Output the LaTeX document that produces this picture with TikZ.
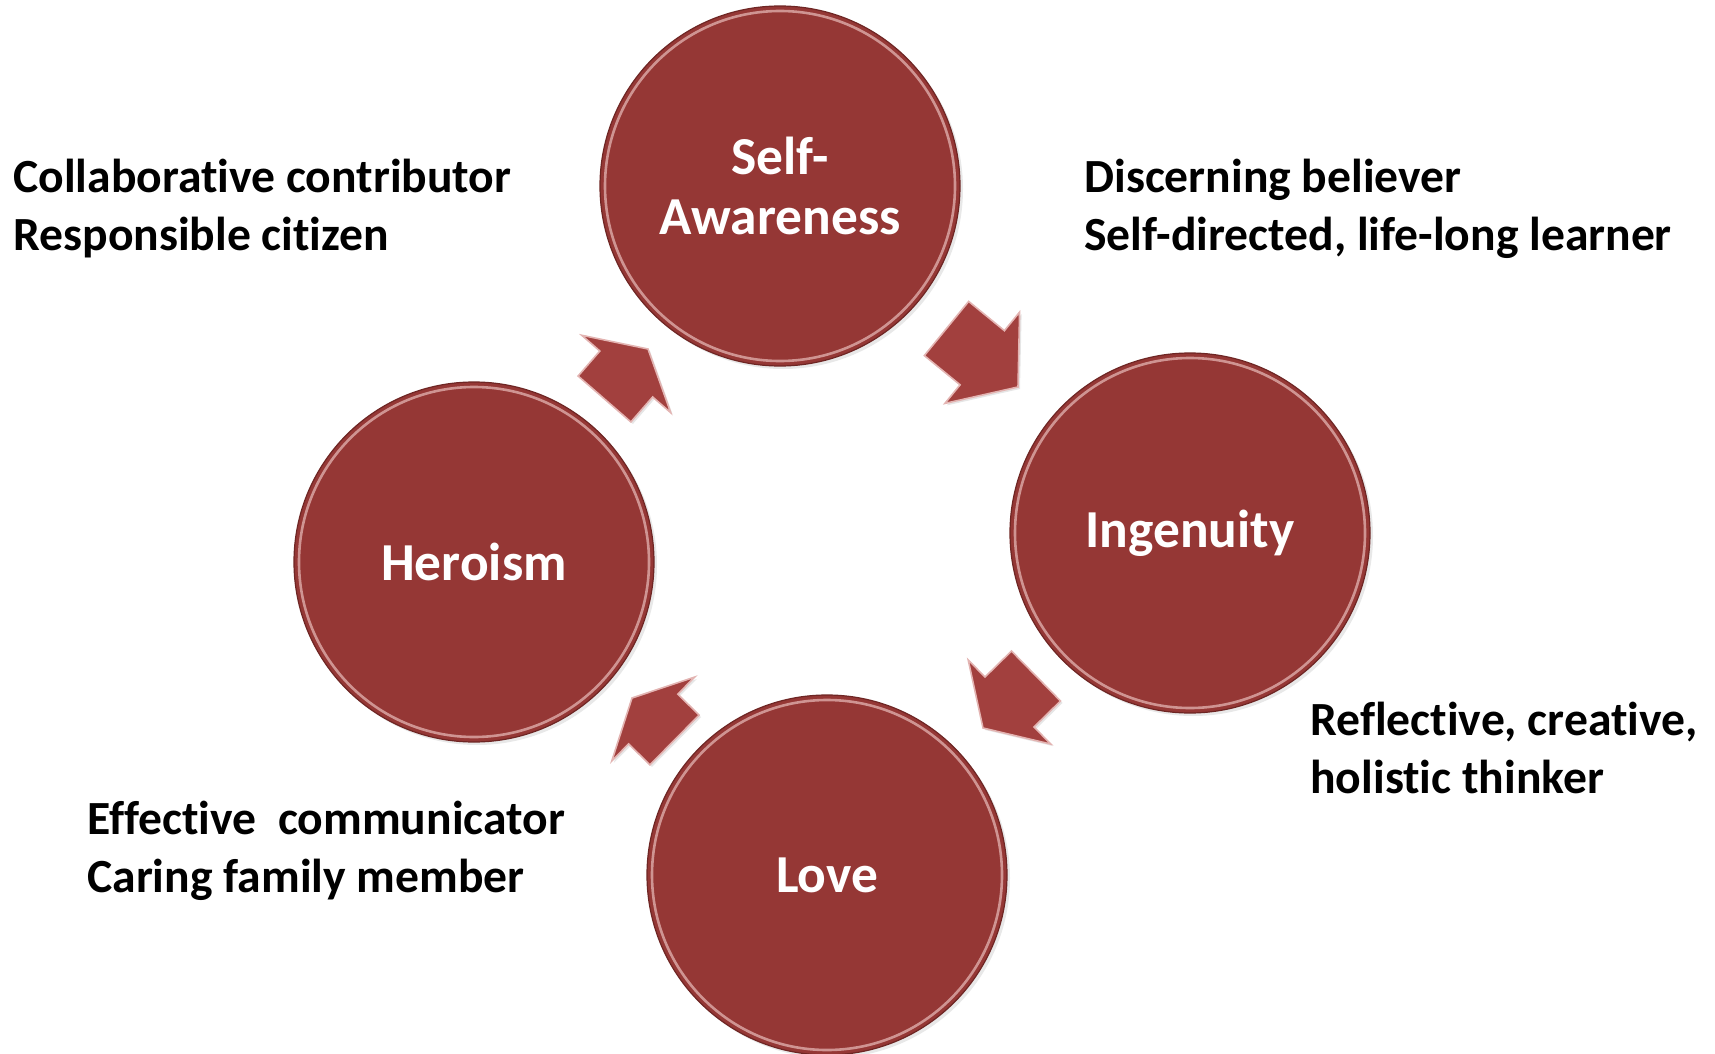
\documentclass[tikz,border=0pt]{standalone}
\usepackage{fontspec}
\setmainfont{Carlito}[RawFeature={-liga;-clig;-calt;-dlig}]
\usetikzlibrary{calc,shadows}
\definecolor{circfill}{HTML}{953735}
\definecolor{arrfill}{HTML}{A2403E}
\definecolor{hilite}{HTML}{E3B4B2}
\definecolor{darkedge}{HTML}{6E2624}
\tikzset{
  circ/.style={circle, fill=circfill, draw=darkedge, line width=0.6pt, minimum size=180pt, inner sep=0pt,
    text=white, font=\fontsize{26.7}{30}\selectfont\bfseries, align=center,
    drop shadow={opacity=0.18, shadow xshift=1.5pt, shadow yshift=-1.5pt}},
  ring/.style={draw=hilite, line width=1.3pt, opacity=0.75},
  label/.style={anchor=base west, align=left, inner sep=0pt, font=\fontsize{23.8}{29}\selectfont\bfseries},
  arrowsty/.style={fill=arrfill, draw=hilite, line width=0.8pt, line join=miter,
    drop shadow={opacity=0.2, shadow xshift=1pt, shadow yshift=-1pt}}
}
\newcommand\blockarr[3]{%
  \coordinate (#1b) at #2;
  \coordinate (#1t) at #3;
  \coordinate (#1m) at ($(#1b)!0.5!(#1t)$);
  \path[arrowsty] ($(#1b)!17.5pt!90:(#1t)$) -- ($(#1m)!17.5pt!90:(#1t)$) -- ($(#1m)!29.5pt!90:(#1t)$)
    -- (#1t) -- ($(#1m)!29.5pt!-90:(#1t)$) -- ($(#1m)!17.5pt!-90:(#1t)$) -- ($(#1b)!17.5pt!-90:(#1t)$) -- cycle;}
\begin{document}
\begin{tikzpicture}[x=0.5pt,y=-0.5pt]
\useasboundingbox (0,0) rectangle (1715,1054);
\clip (0,0) rectangle (1715,1054);
% circles
\node[circ] (sa) at (780,186) {Self-\\Awareness};
\node[circ] (ing) at (1190,533) {Ingenuity};
\node[circ] (her) at (474,562) {Heroism};
\node[circ] (love) at (827,875) {Love};
\foreach \n in {sa,ing,her,love}{
  \draw[ring] (\n.center) circle[radius=87.5pt];
}
% block arrows
\blockarr{a1}{(946.5,328.5)}{(1018,387)}
\blockarr{a2}{(674.5,740)}{(632,698)}
\blockarr{a3}{(604.5,399)}{(648,349)}
\blockarr{a4}{(1036,676)}{(983,728)}
% labels (anchor = baseline of the last line)
\node[label] (tl) at (13,250) {Collaborative contributor\\Responsible citizen};
\node[label] (tr) at (1084,250) {Discerning believer\\Self-directed, life-long learner};
\node[label] (br) at (1310,793) {Reflective, creative,\\holistic thinker};
\node[label] (bl) at (87,892) {Effective\ \ communicator\\Caring family member};
\end{tikzpicture}
\end{document}
